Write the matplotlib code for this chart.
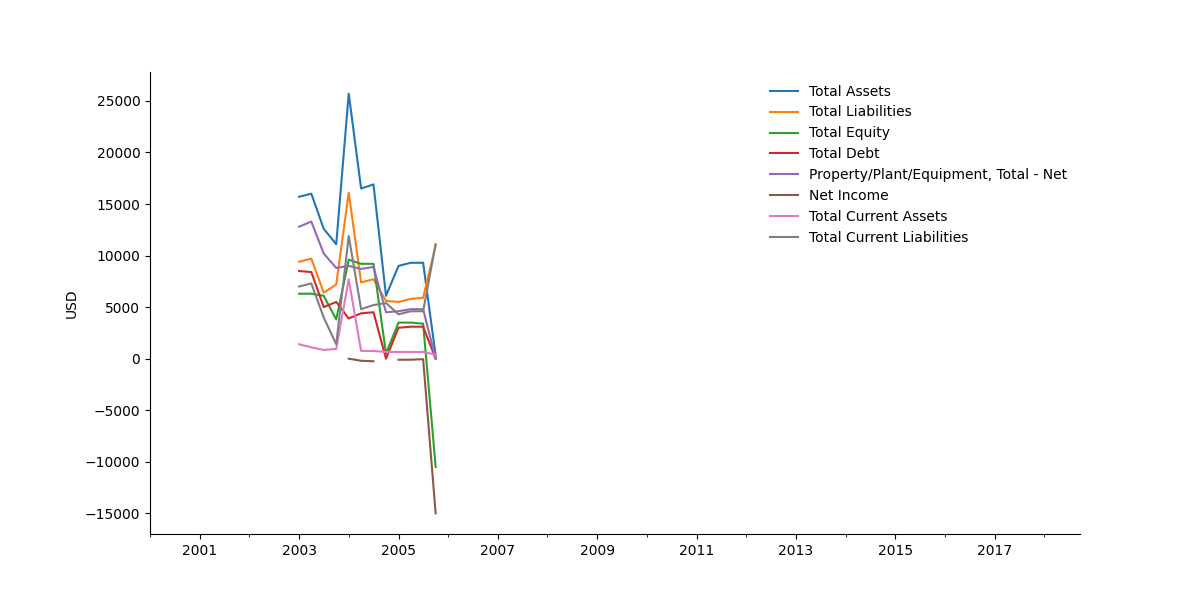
import matplotlib
matplotlib.use("Agg")
import matplotlib.pyplot as plt
import matplotlib.dates as mdates
import numpy as np
import pandas as pd

dates = pd.to_datetime(["2003-01-01","2003-04-01","2003-07-01","2003-10-01",
                        "2004-01-01","2004-04-01","2004-07-01","2004-10-01",
                        "2005-01-01","2005-04-01","2005-07-01","2005-10-01"])
nan = np.nan
total_assets = [15700, 16000, 12600, 11100, 25700, 16500, 16900, 6100, 9000, 9300, 9300, 300]
total_liabilities = [9400, 9700, 6400, 7200, 16100, 7400, 7700, 5600, 5500, 5800, 5900, 11000]
total_equity = [6300, 6300, 6100, 3800, 9600, 9200, 9200, 500, 3500, 3500, 3400, -10500]
total_debt = [8500, 8400, 5000, 5500, 3900, 4400, 4500, 0, 3000, 3100, 3100, 0]
ppe_net = [12800, 13300, 10200, 8800, 9000, 8700, 8900, 4500, 4600, 4800, 4800, 0]
net_income = [nan, nan, nan, nan, 0, -200, -250, nan, -100, -100, -50, -15000]
total_current_assets = [1400, 1100, 850, 950, 7700, 750, 750, 650, 650, 650, 650, 400]
total_current_liabilities = [7000, 7300, 4000, 1400, 11900, 4800, 5200, 5400, 4300, 4600, 4600, 11100]

series = [
    ("Total Assets", total_assets),
    ("Total Liabilities", total_liabilities),
    ("Total Equity", total_equity),
    ("Total Debt", total_debt),
    ("Property/Plant/Equipment, Total - Net", ppe_net),
    ("Net Income", net_income),
    ("Total Current Assets", total_current_assets),
    ("Total Current Liabilities", total_current_liabilities),
]

fig, ax = plt.subplots(figsize=(12, 6), dpi=100)
for name, vals in series:
    ax.plot(dates, vals, label=name)

ax.set_xlim(pd.Timestamp("2000-01-01"), pd.Timestamp("2018-09-20"))
ax.set_ylim(-17000, 27800)
ax.xaxis.set_major_locator(mdates.YearLocator(2, month=1, day=1))
ax.xaxis.set_major_formatter(mdates.DateFormatter("%Y"))
ax.xaxis.set_minor_locator(mdates.YearLocator(1))
ax.set_xticks([pd.Timestamp(f"{y}-01-01") for y in range(2001, 2019, 2)])
ax.set_ylabel("USD")
ax.spines["top"].set_visible(False)
ax.spines["right"].set_visible(False)
ax.legend(loc="upper right", frameon=False)
fig.savefig("out.png")
